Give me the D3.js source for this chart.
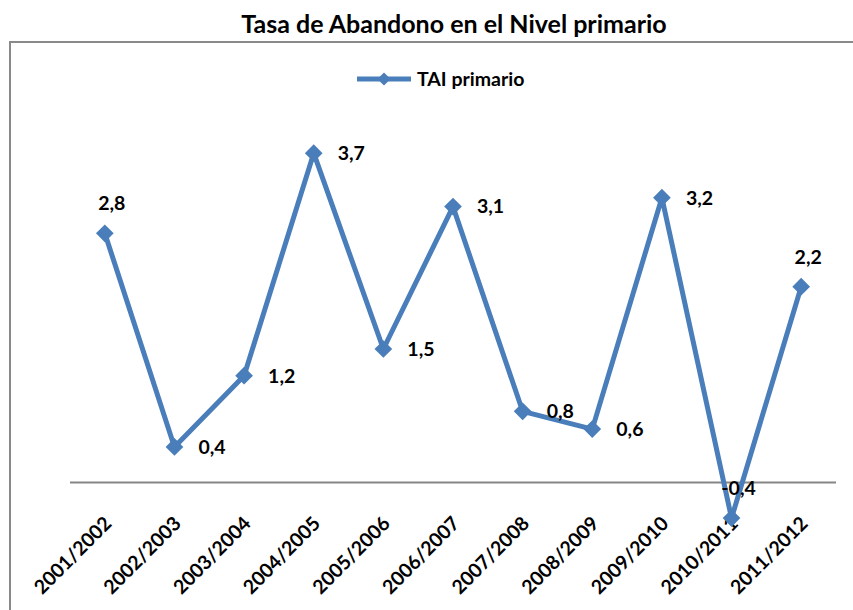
<!DOCTYPE html>
<html>
<head>
<meta charset="utf-8">
<title>Tasa de Abandono</title>
<script src="https://d3js.org/d3.v7.min.js"></script>
<style>
body { margin: 0; background: #fff; }
svg text { font-family: Lato, "Open Sans", sans-serif; font-weight: bold; fill: #000; }
</style>
</head>
<body>
<svg id="chart" width="853" height="610"></svg>
<script>
// chart data
const years = ["2001/2002", "2002/2003", "2003/2004", "2004/2005", "2005/2006", "2006/2007",
  "2007/2008", "2008/2009", "2009/2010", "2010/2011", "2011/2012"];
const tai = [2.8, 0.4, 1.2, 3.7, 1.5, 3.1, 0.8, 0.6, 3.2, -0.4, 2.2];
// where each value label sits
const labelPlace = ["above", "right", "right", "right", "right", "right", "right", "right", "right", "above", "above"];
const seriesName = "TAI primario";
const title = "Tasa de Abandono en el Nivel primario";

const blue = "#4a7ebb";
const svg = d3.select("#chart");

// outer frame (cut off at right and bottom like the original)
svg.append("path")
  .attr("d", "M10,610 V42 H853")
  .attr("fill", "none")
  .attr("stroke", "#898989")
  .attr("stroke-width", 2);

svg.append("text")
  .attr("x", 454).attr("y", 33)
  .attr("text-anchor", "middle")
  .style("font-size", "25px")
  .text(title);

// scales
const x = d3.scalePoint().domain(years).range([70, 836]).padding(0.5);
const y = d3.scaleLinear().domain([-0.5, 4]).range([527, 126.5]);

// zero line
svg.append("line")
  .attr("x1", 70).attr("x2", 836)
  .attr("y1", y(0)).attr("y2", y(0))
  .attr("stroke", "#868686").attr("stroke-width", 2);

// category labels
svg.append("g").selectAll("text")
  .data(years).join("text")
  .attr("transform", d => `translate(${x(d) + 3},520) rotate(-45)`)
  .attr("text-anchor", "end")
  .attr("dy", "0.35em")
  .style("font-size", "19.5px")
  .text(d => d);

const diamond = d3.symbol().type(d3.symbolDiamond2).size(200);

// line + markers
const line = d3.line().x((d, i) => x(years[i])).y(d => y(d));
svg.append("path")
  .datum(tai)
  .attr("d", line)
  .attr("fill", "none")
  .attr("stroke", blue)
  .attr("stroke-width", 5)
  .attr("stroke-linejoin", "round");

svg.append("g").selectAll("path")
  .data(tai).join("path")
  .attr("transform", (d, i) => `translate(${x(years[i])},${y(d)})`)
  .attr("d", diamond)
  .attr("fill", blue);

// value labels
svg.append("g").selectAll("text")
  .data(tai).join("text")
  .attr("x", (d, i) => labelPlace[i] == "right" ? x(years[i]) + 24 : x(years[i]) + 7)
  .attr("y", (d, i) => labelPlace[i] == "right" ? y(d) : y(d) - 23)
  .attr("dy", (d, i) => labelPlace[i] == "right" ? "0.35em" : "0")
  .attr("text-anchor", (d, i) => labelPlace[i] == "right" ? "start" : "middle")
  .style("font-size", "19.5px")
  .text(d => d3.format(".1f")(d).replace(".", ",").replace("−", "-"));

// legend
const lg = svg.append("g").attr("transform", "translate(357,79)");
lg.append("line").attr("x1", 0).attr("x2", 54)
  .attr("stroke", blue).attr("stroke-width", 5);
lg.append("path").attr("transform", "translate(27,0)")
  .attr("d", d3.symbol().type(d3.symbolDiamond2).size(110)).attr("fill", blue);
lg.append("text").attr("x", 60).attr("dy", "0.35em")
  .style("font-size", "19.5px")
  .text(seriesName);
</script>
</body>
</html>
